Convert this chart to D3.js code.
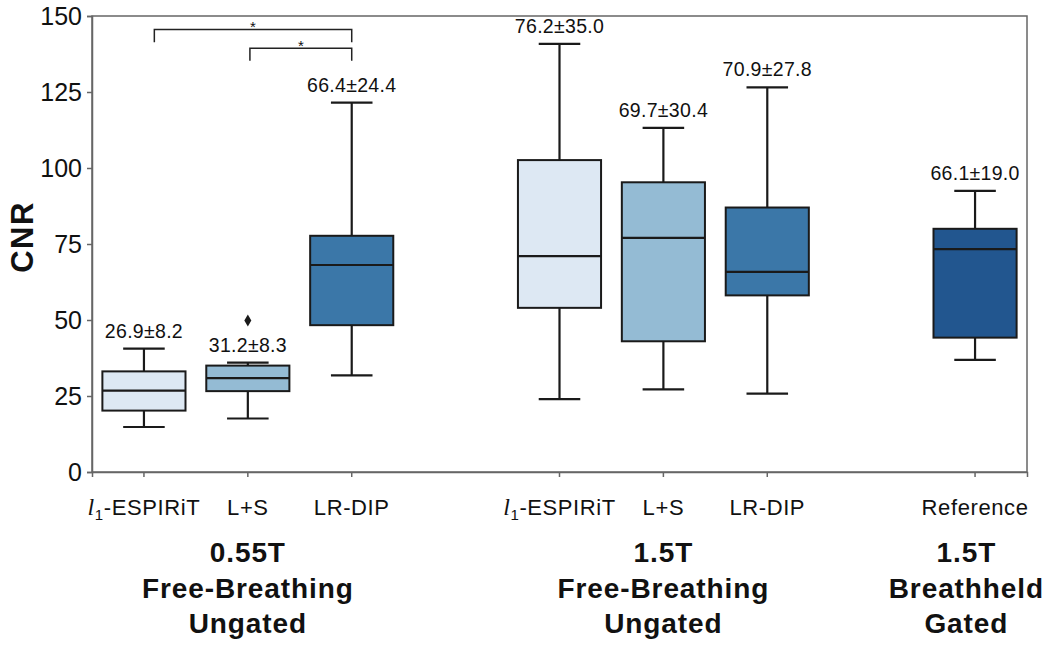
<!DOCTYPE html>
<html>
<head>
<meta charset="utf-8">
<script src="https://cdn.jsdelivr.net/npm/d3@7"></script>
<style>
  body { margin: 0; background: #fff; }
  text { font-family: Arial, "Liberation Sans", sans-serif; fill: #111; }
</style>
</head>
<body>
<div id="chart"></div>
<script>
// slots along the x axis (gap slots stay empty between the groups)
var slots = ["055-l1", "055-ls", "055-dip", "gap1", "15-l1", "15-ls", "15-dip", "gap2", "15-ref"];
var boxKeys = ["055-l1", "055-ls", "055-dip", "15-l1", "15-ls", "15-dip", "15-ref"];
var methods = ["l1-ESPIRiT", "L+S", "LR-DIP", "l1-ESPIRiT", "L+S", "LR-DIP", "Reference"];
var boxColors = ["#dde8f3", "#94bbd4", "#3b77a8", "#dde8f3", "#94bbd4", "#3b77a8", "#22568f"];

// box statistics (CNR)
var whiskerLow  = [14.8, 17.6, 31.8, 24.0, 27.2, 25.8, 36.9];
var q1          = [20.2, 26.6, 48.3, 54.0, 43.0, 58.1, 44.2];
var median      = [26.8, 30.9, 68.1, 71.0, 77.0, 65.8, 73.3];
var q3          = [33.1, 35.0, 77.7, 102.6, 95.3, 87.0, 80.0];
var whiskerHigh = [40.6, 36.0, 121.5, 140.8, 113.2, 126.5, 92.5];
var means = [26.9, 31.2, 66.4, 76.2, 69.7, 70.9, 66.1];
var stds  = [8.2, 8.3, 24.4, 35.0, 30.4, 27.8, 19.0];
var outliers = [{key: "055-ls", value: 49.8}];

var yTicks = [0, 25, 50, 75, 100, 125, 150];

var groupLines = [
  ["0.55T", "Free-Breathing", "Ungated"],
  ["1.5T", "Free-Breathing", "Ungated"],
  ["1.5T", "Breathheld", "Gated"]
];
var groupCenters = ["055-ls", "15-ls", "15-ref"];

// significance brackets between 0.55T methods
var brackets = [
  {from: "055-l1", to: "055-dip", level: 145.6, drop: 4.2, nudge: 0.1},
  {from: "055-ls", to: "055-dip", level: 139.4, drop: 4.1, nudge: 0.02}
];

var W = 1050, H = 655;
var margin = {top: 16, right: 23, bottom: 183, left: 92};
var width = W - margin.left - margin.right,
    height = H - margin.top - margin.bottom;

var svg = d3.select("#chart").append("svg")
    .attr("width", W)
    .attr("height", H);

var g = svg.append("g")
    .attr("transform", "translate(" + margin.left + "," + margin.top + ")");

var x = d3.scaleBand().domain(slots).range([0, width]).padding(0);
var y = d3.scaleLinear().domain([0, 150]).range([height, 0]);

var bw = x.bandwidth() * 0.8;
function cx(k) { return x(k) + x.bandwidth() / 2; }

// frame
g.append("rect")
  .attr("width", width).attr("height", height)
  .attr("fill", "none").attr("stroke", "#666").attr("stroke-width", 1.5);

// y axis
var yAxis = g.append("g")
  .call(d3.axisLeft(y).tickValues(yTicks).tickSize(5).tickPadding(5));
yAxis.select(".domain").attr("stroke", "#666").attr("stroke-width", 1.5);
yAxis.selectAll(".tick line").attr("stroke", "#666").attr("stroke-width", 1.5);
yAxis.selectAll(".tick text").style("font-size", "25px").attr("fill", "#111");

// x axis
var xAxis = g.append("g")
  .attr("transform", "translate(0," + height + ")")
  .call(d3.axisBottom(x).tickValues(boxKeys).tickSize(5).tickPadding(22));
xAxis.select(".domain").attr("stroke", "#666").attr("stroke-width", 1.5);
xAxis.selectAll(".tick line").attr("stroke", "#666").attr("stroke-width", 1.5);
xAxis.selectAll(".tick text")
  .style("font-size", "22px")
  .style("letter-spacing", "0.6px")
  .attr("fill", "#111")
  .each(function(k) {
    var label = methods[boxKeys.indexOf(k)];
    var t = d3.select(this).text(null);
    if (label.indexOf("l1") === 0) {
      t.append("tspan").text("l")
        .style("font-family", "'Liberation Serif', 'Times New Roman', serif")
        .style("font-style", "italic").style("font-size", "24px");
      t.append("tspan").text("1")
        .style("font-size", "15px").attr("dy", 5);
      t.append("tspan").text(label.slice(2)).attr("dy", -5);
    } else {
      t.text(label);
    }
  });

// y label
svg.append("text")
  .attr("transform", "translate(33," + (margin.top + height / 2 - 7) + ") rotate(-90)")
  .attr("text-anchor", "middle")
  .style("font-size", "31px").style("font-weight", "bold")
  .style("letter-spacing", "1.5px")
  .text("CNR");

// group labels
groupLines.forEach(function(lines, i) {
  var t = g.append("text")
    .attr("x", cx(groupCenters[i]))
    .attr("y", height + 90)
    .attr("text-anchor", "middle")
    .style("font-size", "28px").style("font-weight", "bold")
    .style("letter-spacing", "0.9px");
  lines.forEach(function(s, j) {
    t.append("tspan").attr("x", cx(groupCenters[i])).attr("dy", j === 0 ? 0 : 35.5).text(s);
  });
  // keep the last group inside the picture
  var bb = t.node().getBBox();
  var over = margin.left + bb.x + bb.width - (W - 6);
  if (over > 0) t.attr("transform", "translate(" + (-over) + ",0)");
});

// boxes
var boxes = g.selectAll(".box")
  .data(boxKeys)
  .enter().append("g")
    .attr("class", "box");

// whiskers
boxes.append("line")
  .attr("x1", function(k) { return cx(k); })
  .attr("x2", function(k) { return cx(k); })
  .attr("y1", function(k, i) { return y(whiskerHigh[i]); })
  .attr("y2", function(k, i) { return y(q3[i]); })
  .attr("stroke", "#1a1a1a").attr("stroke-width", 2.2);
boxes.append("line")
  .attr("x1", function(k) { return cx(k); })
  .attr("x2", function(k) { return cx(k); })
  .attr("y1", function(k, i) { return y(q1[i]); })
  .attr("y2", function(k, i) { return y(whiskerLow[i]); })
  .attr("stroke", "#1a1a1a").attr("stroke-width", 2.2);

// caps
[whiskerHigh, whiskerLow].forEach(function(arr) {
  boxes.append("line")
    .attr("x1", function(k) { return cx(k) - bw / 4; })
    .attr("x2", function(k) { return cx(k) + bw / 4; })
    .attr("y1", function(k, i) { return y(arr[i]); })
    .attr("y2", function(k, i) { return y(arr[i]); })
    .attr("stroke", "#1a1a1a").attr("stroke-width", 2.2);
});

boxes.append("rect")
  .attr("x", function(k) { return cx(k) - bw / 2; })
  .attr("y", function(k, i) { return y(q3[i]); })
  .attr("width", bw)
  .attr("height", function(k, i) { return y(q1[i]) - y(q3[i]); })
  .attr("fill", function(k, i) { return boxColors[i]; })
  .attr("stroke", "#1a1a1a").attr("stroke-width", 2);

boxes.append("line")
  .attr("x1", function(k) { return cx(k) - bw / 2; })
  .attr("x2", function(k) { return cx(k) + bw / 2; })
  .attr("y1", function(k, i) { return y(median[i]); })
  .attr("y2", function(k, i) { return y(median[i]); })
  .attr("stroke", "#1a1a1a").attr("stroke-width", 2.2);

// mean ± std labels
boxes.append("text")
  .attr("x", function(k) { return cx(k); })
  .attr("y", function(k, i) { return y(whiskerHigh[i]) - 11; })
  .attr("text-anchor", "middle")
  .style("font-size", "19.5px")
  .style("letter-spacing", "0.3px")
  .text(function(k, i) { return means[i].toFixed(1) + "\u00b1" + stds[i].toFixed(1); });

// outliers (thin diamond)
g.selectAll(".outlier")
  .data(outliers)
  .enter().append("path")
    .attr("class", "outlier")
    .attr("d", function(d) {
      var px = cx(d.key), py = y(d.value);
      return "M" + px + "," + (py - 6) + "L" + (px + 3.5) + "," + py +
             "L" + px + "," + (py + 6) + "L" + (px - 3.5) + "," + py + "Z";
    })
    .attr("fill", "#1a1a1a");

// significance brackets
brackets.forEach(function(b) {
  var x1 = cx(b.from) + b.nudge * x.bandwidth(), x2 = cx(b.to);
  var yTop = y(b.level), yBot = y(b.level - b.drop);
  g.append("path")
    .attr("d", "M" + x1 + "," + yBot + "V" + yTop + "H" + x2 + "V" + yBot)
    .attr("fill", "none").attr("stroke", "#222").attr("stroke-width", 1.5);
  g.append("text")
    .attr("x", (x1 + x2) / 2)
    .attr("y", yTop + 3)
    .attr("text-anchor", "middle")
    .style("font-size", "15px")
    .text("*");
});
</script>
</body>
</html>
